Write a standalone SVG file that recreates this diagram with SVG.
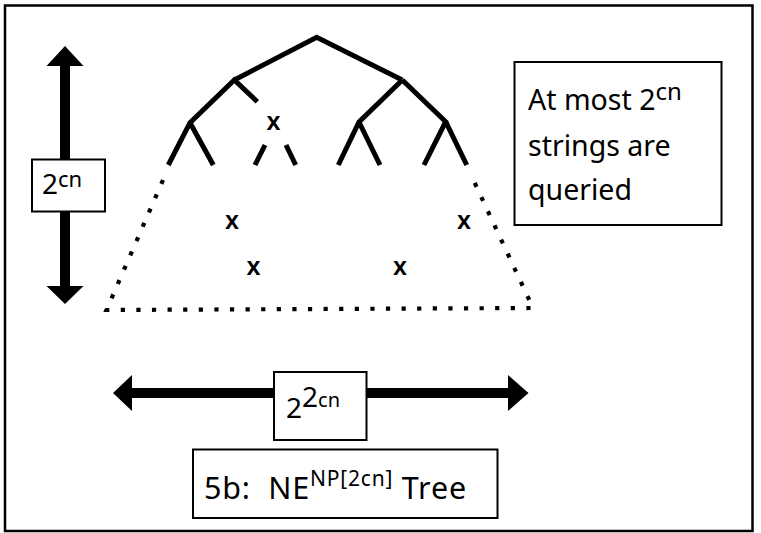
<svg xmlns="http://www.w3.org/2000/svg" width="761" height="533" viewBox="0 0 761 533">
  <style>
    .frame { fill: #fff; stroke: #000; stroke-width: 2.5; }
    .box { fill: #fff; stroke: #000; stroke-width: 2; }
    .branch { fill: none; stroke: #000; stroke-width: 5; stroke-linecap: butt; stroke-linejoin: miter; }
    .dots { fill: none; stroke: #000; stroke-width: 4.2; stroke-dasharray: 4.2 11.4; }
    .arrow { fill: #000; stroke: none; }
    .t { font-family: "Noto Sans", "Open Sans", sans-serif; fill: #000; }
    .mark { font-family: "Noto Sans", "Open Sans", sans-serif; font-size: 25px; font-weight: 600; fill: #000; text-anchor: middle; }
  </style>

  <rect class="frame" x="5" y="5.5" width="747.5" height="525.5"/>

  <!-- Query tree -->
  <g id="tree">
    <path class="branch" d="M234.3 80 L316.7 37.3 L402.3 80"/>
    <path class="branch" d="M168.3 165 L190 122.7 L234.3 80 L257.3 101.7"/>
    <path class="branch" d="M190 122.7 L213.3 165"/>
    <path class="branch" d="M255 165 L265 145 M286 145 L295.7 165"/>
    <path class="branch" d="M402.3 80 L359 122 L338.3 165 M359 122 L380 165"/>
    <path class="branch" d="M402.3 80 L445.7 121.7 L424 165 M445.7 121.7 L466.7 165"/>
    <path class="dots" d="M163 180 L106.5 310 L533 308 L471.5 176"/>
    <text class="mark" x="273.5" y="129.5">x</text>
    <text class="mark" x="232" y="228.5">x</text>
    <text class="mark" x="464" y="228.5">x</text>
    <text class="mark" x="253.5" y="275">x</text>
    <text class="mark" x="400" y="275">x</text>
  </g>

  <!-- Dimension arrows -->
  <g id="connectors">
    <rect class="arrow" x="60" y="64" width="10" height="224"/>
    <polygon class="arrow" points="65,46 46.5,66 83.5,66"/>
    <polygon class="arrow" points="65,304 46.5,286 83.5,286"/>
    <rect class="arrow" x="130" y="388" width="380" height="10"/>
    <polygon class="arrow" points="113,393 132,375 132,411"/>
    <polygon class="arrow" points="528.5,393 508,375 508,411"/>
  </g>

  <g id="height-label">
    <rect class="box" x="32" y="159.5" width="73" height="52"/>
    <text class="t" x="42" y="193.5" font-size="28">2<tspan font-size="22" dy="-7">cn</tspan></text>
  </g>

  <g id="width-label">
    <rect class="box" x="274" y="372" width="92.5" height="68"/>
    <text class="t" x="286" y="418" font-size="28">2<tspan dy="-11">2</tspan><tspan font-size="20">cn</tspan></text>
  </g>

  <g id="query-note">
    <rect class="box" x="514.5" y="62" width="207" height="163"/>
    <text class="t" x="528" y="110" font-size="28.5">At most 2<tspan font-size="24" dy="-10">cn</tspan></text>
    <text class="t" x="528" y="155.5" font-size="28.5">strings are</text>
    <text class="t" x="528" y="200" font-size="28.5">queried</text>
  </g>

  <g id="caption">
    <rect class="box" x="193" y="449.5" width="304.5" height="68.5"/>
    <text class="t" x="204" y="498.5" font-size="30.5" letter-spacing="0.8" xml:space="preserve">5b:  NE<tspan font-size="21" dy="-13">NP[2cn]</tspan><tspan dy="13"> Tree</tspan></text>
  </g>
</svg>
